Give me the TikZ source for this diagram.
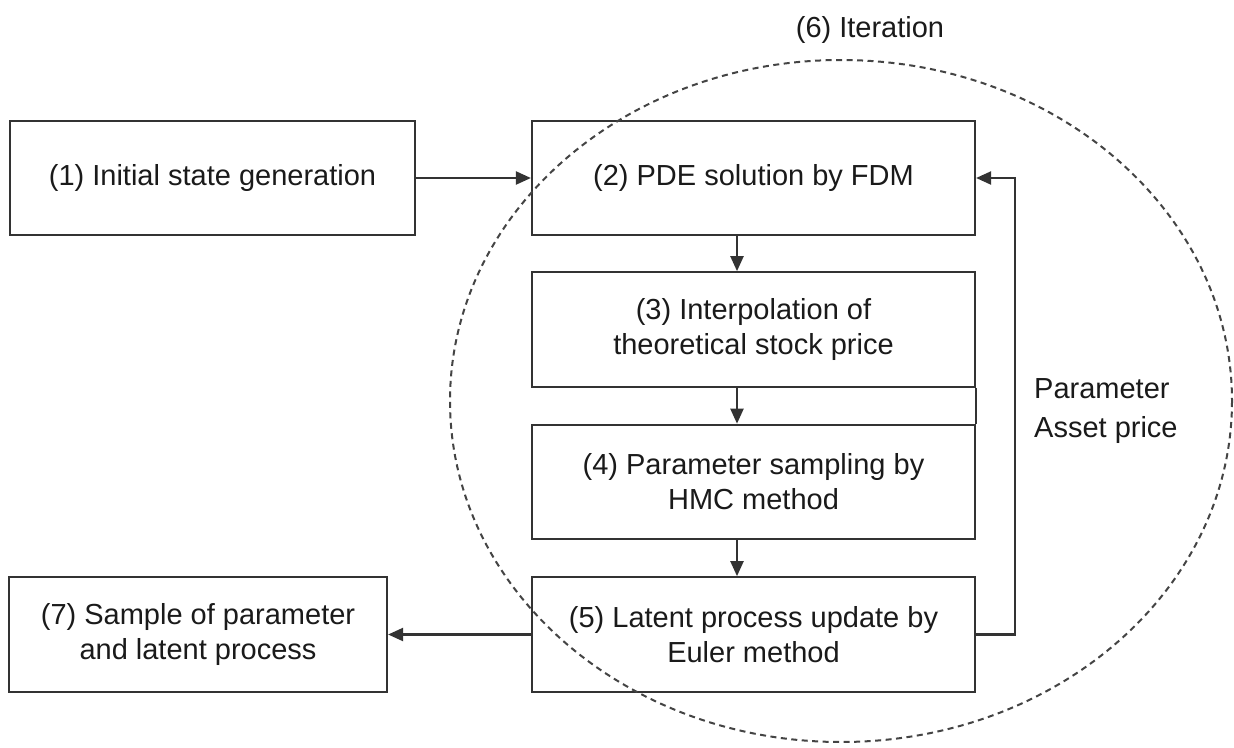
\documentclass[tikz,border=0pt]{standalone}
\usepackage{fontspec}
\setmainfont{Liberation Sans}
\usetikzlibrary{arrows.meta}
\definecolor{linec}{HTML}{333333}
\definecolor{textc}{HTML}{1A1A1A}
\definecolor{dashc}{HTML}{444444}
\begin{document}
\begin{tikzpicture}[x=1pt,y=-1pt,
  box/.style={draw=linec, line width=2.2pt, minimum height=114.5pt, align=center,
    font=\fontsize{29}{35}\selectfont, text=textc, inner sep=0pt},
  conn/.style={draw=linec, line width=2.2pt, -{Triangle[length=15pt,width=13pt]}},
  plainline/.style={draw=linec, line width=2.2pt},
  lbl/.style={font=\fontsize{29}{35}\selectfont, text=textc, inner sep=0pt}]
\useasboundingbox (0,0) rectangle (1234,747);
\fill[white] (0,0) rectangle (1234,747);

\node[box, minimum width=405pt] (b1) at (212.5,178) {(1) Initial state generation};
\node[box, minimum width=443pt] (b2) at (753.5,178) {(2) PDE solution by FDM};
\node[box, minimum width=443pt] (b3) at (753.5,329.5) {(3) Interpolation of\\theoretical stock price};
\node[box, minimum width=443pt] (b4) at (753.5,482) {(4) Parameter sampling by\\HMC method};
\node[box, minimum width=443pt] (b5) at (753.5,634.5) {(5) Latent process update by\\Euler method};
\node[box, minimum width=378pt] (b7) at (198,634.5) {(7) Sample of parameter\\and latent process};

\draw[dashc, line width=2pt, dash pattern=on 6pt off 4.5pt] (841,401) ellipse [x radius=391, y radius=341];

\node[lbl, anchor=base] (iter) at (870,37) {(6) Iteration};
\node[lbl, anchor=base west] (par) at (1034,398) {Parameter};
\node[lbl, anchor=base west] (asset) at (1034,437) {Asset price};

\coordinate (fb) at (1015,400);
\coordinate (col) at (737,400);
\draw[conn] (b1.east) -- (b2.west);
\draw[conn] (b2.south -| col) -- (b3.north -| col);
\draw[conn] (b3.south -| col) -- (b4.north -| col);
\draw[conn] (b4.south -| col) -- (b5.north -| col);
\draw[conn] (b5.west) -- (b7.east);
\draw[conn] (b5.east) -- (b5.east -| fb) -- (b2.east -| fb) -- (b2.east);
\draw[plainline] (b3.south east) -- (b4.north east);
\end{tikzpicture}
\end{document}
